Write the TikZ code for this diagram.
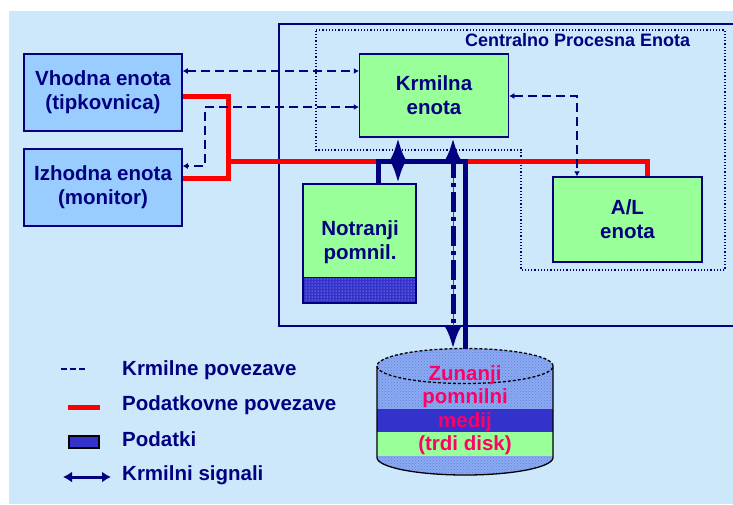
\documentclass[tikz,border=0pt]{standalone}
\usepackage{fontspec}
\setmainfont{Liberation Sans}
\usetikzlibrary{arrows.meta, patterns}

\definecolor{navy}{RGB}{0,0,128}
\definecolor{bgblue}{RGB}{204,232,250}
\definecolor{unitblue}{RGB}{153,204,255}
\definecolor{unitgreen}{RGB}{153,255,153}
\definecolor{datablue}{RGB}{51,51,204}
\definecolor{diskblue}{RGB}{140,170,240}
\definecolor{diskdot}{RGB}{90,130,230}
\definecolor{disktext}{RGB}{255,0,102}

\begin{document}
\begin{tikzpicture}[x=1pt, y=-1pt,
    font=\bfseries\fontsize{20.5}{24}\selectfont,
    unit/.style={draw=navy, line width=1.5pt, text=navy, align=center, inner sep=0pt},
    ctrl/.style={navy, line width=1.5pt, dash pattern=on 9pt off 5pt,
        {Latex[length=5pt,width=6pt]}-{Latex[length=5pt,width=6pt]}},
    data/.style={red, line width=5pt},
    bus/.style={navy, line width=5pt},
    sig/.style={navy, line width=5pt,
        {Latex[length=23pt,width=17pt]}-{Latex[length=23pt,width=17pt]}},
    legtext/.style={anchor=west, text=navy, inner sep=0pt}]

   % Background
   \useasboundingbox (0,0) rectangle (733,504);
   \fill[bgblue] (9,11) rectangle (733,504);

   % CPU frame and inner dotted region
   \begin{scope}
   \clip (0,0) rectangle (733,504);
   \draw[navy, line width=1.5pt] (279,24) rectangle (745,326);
   \end{scope}
   \draw[navy, line width=1.2pt, dotted] (316,30) -- (725,30) -- (725,270)
        -- (521,270) -- (521,150) -- (316,150) -- cycle;
   \node[anchor=west, text=navy, font=\bfseries\fontsize{18}{20}\selectfont, inner sep=0pt]
        (cputitle) at (465,40) {Centralno Procesna Enota};

   % Units
   \node[unit, fill=unitblue, minimum width=158pt, minimum height=77pt] (vhodna)
        at (103,92.5) {Vhodna enota\\(tipkovnica)};
   \node[unit, fill=unitblue, minimum width=158pt, minimum height=77pt] (izhodna)
        at (103,187.5) {Izhodna enota\\(monitor)};
   \node[unit, fill=unitgreen, minimum width=149pt, minimum height=83pt] (krmilna)
        at (434,95.5) {Krmilna\\enota};
   \node[unit, fill=unitgreen, minimum width=149pt, minimum height=85pt] (alenota)
        at (627.5,219.5) {A/L\\enota};
   \node[unit, fill=unitgreen, minimum width=113pt, minimum height=94pt] (notranji)
        at (359.5,231) {};
   \node[text=navy, align=center, inner sep=0pt] (notranjitxt) at (360,242) {Notranji\\pomnil.};
   \path[preaction={fill=datablue}, pattern=dots, pattern color=white!80!datablue]
        (303,278) rectangle (416,303);
   \draw[navy, line width=1.5pt] (303,184) rectangle (416,303);

   % Data connections
   \draw[data] (vhodna.east |- 0,96) -| (228,178) -- (izhodna.east |- 0,178);
   \draw[data] (228,161) -- (647,161) -- (alenota.north -| 647,0);

   % Control connections
   \draw[ctrl] (vhodna.east |- 0,71) -- (krmilna.west |- 0,71);
   \draw[ctrl] (krmilna.west |- 0,107) -| (205,166) -- (izhodna.east |- 0,166);
   \draw[ctrl] (krmilna.east |- 0,96) -| (alenota.north -| 577,0);

   % External storage
   \path[preaction={fill=diskblue}, pattern=crosshatch dots, pattern color=diskdot]
        (377,366) -- (377,457.5) arc[start angle=180, end angle=360, x radius=88pt, y radius=17.5pt]
        -- (553,366) arc[start angle=0, end angle=180, x radius=88pt, y radius=17.5pt] -- cycle;
   \fill[datablue] (377,409) rectangle (553,432);
   \fill[unitgreen] (377,432) rectangle (553,456);
   \draw[black, line width=1.3pt] (377,366) -- (377,457.5)
        arc[start angle=180, end angle=360, x radius=88pt, y radius=17.5pt] -- (553,366);
   \draw[black, line width=1.3pt, densely dashed] (465,366) ellipse [x radius=88pt, y radius=17.5pt];
   \node[text=disktext, align=center, inner sep=0pt, font=\bfseries\fontsize{20.5}{23.5}\selectfont]
        (disk) at (465,410) {Zunanji\\pomnilni\\medij\\(trdi disk)};

   % Bus and signals
   \draw[bus] (notranji.north -| 378,0) |- (465,161) -- (465,349);
   \draw[sig] (krmilna.south -| 398,0) -- (notranji.north -| 398,0);
   \draw[black!70, line width=1pt] (453,150) -- (453,335);
   \draw[sig, dash pattern=on 20pt off 5pt on 4pt off 5pt] (krmilna.south -| 453,0) -- (453,349);

   % Legend
   \draw[navy, line width=1.2pt, dash pattern=on 6pt off 3pt] (61,369) -- (88,369);
   \draw[data] (68,407) -- (100,407);
   \draw[black, line width=1.5pt, fill=datablue] (69,436) rectangle (99,448);
   \draw[navy, line width=3pt, {Latex[length=9pt,width=11pt]}-{Latex[length=9pt,width=11pt]}]
        (63,477) -- (111,477);
   \node[legtext] (lkrm) at (122,370) {Krmilne povezave};
   \node[legtext] (lpod) at (122,405) {Podatkovne povezave};
   \node[legtext] (ldat) at (122,439) {Podatki};
   \node[legtext] (lsig) at (122,475) {Krmilni signali};
\end{tikzpicture}
\end{document}
